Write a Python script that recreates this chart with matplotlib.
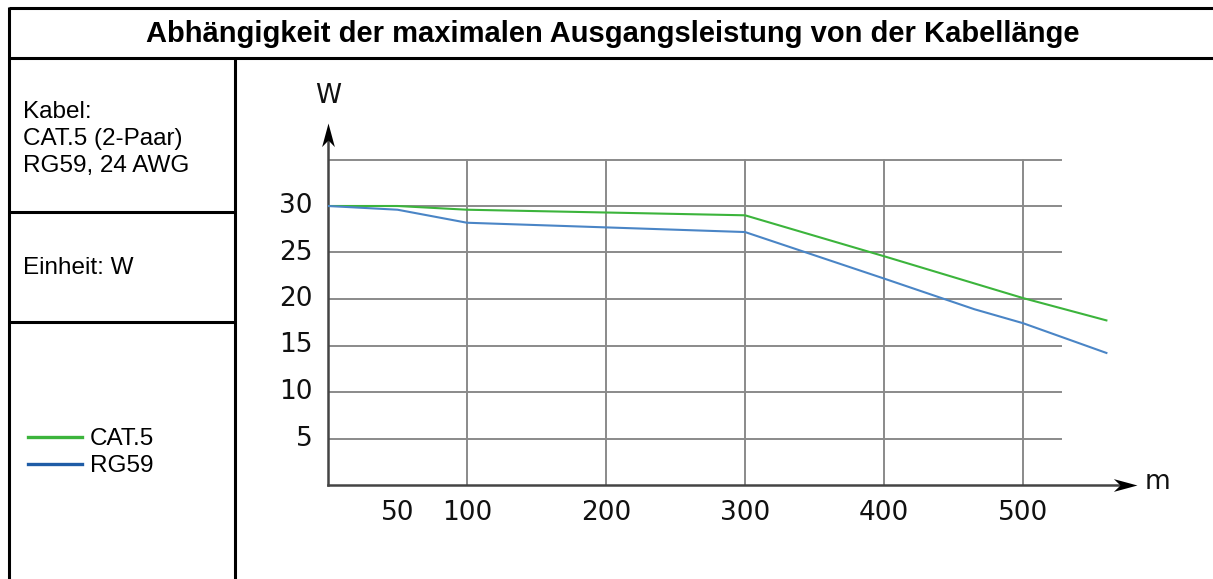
import matplotlib
matplotlib.use("Agg")
import matplotlib.pyplot as plt
from matplotlib.lines import Line2D

W, H = 1213, 579

# data
length_cat5 = [0, 50, 100, 200, 300, 400, 500, 530, 560]
power_cat5 = [30, 30, 29.6, 29.3, 29.0, 24.6, 20.1, 18.9, 17.7]
length_rg59 = [0, 50, 100, 200, 300, 400, 465, 500, 560]
power_rg59 = [30, 29.6, 28.2, 27.7, 27.2, 22.2, 18.9, 17.4, 14.2]
x_ticks = [50, 100, 200, 300, 400, 500]
x_grid = [100, 200, 300, 400, 500]
y_ticks = [5, 10, 15, 20, 25, 30]
y_grid = [5, 10, 15, 20, 25, 30, 35]

green = "#3cb43c"
blue = "#4a85c6"
legend_blue = "#1f5ca6"
grid_c = "#8a8a8a"
axis_c = "#444444"

fig = plt.figure(figsize=(W / 100, H / 100), dpi=100)
fig.patch.set_facecolor("white")


def px(x, y):
    return x / W, 1 - y / H


def frame_line(x0, y0, x1, y1):
    (a, b), (c, d) = px(x0, y0), px(x1, y1)
    fig.add_artist(Line2D([a, c], [b, d], color="black", lw=2.2,
                          solid_capstyle="butt", transform=fig.transFigure))


# table frame
frame_line(9, 8, W, 8)
frame_line(9, 58, W, 58)
frame_line(9, 6.5, 9, H)
frame_line(235, 58, 235, H)
frame_line(9, 212, 235, 212)
frame_line(9, 322, 235, 322)

sans = ["Liberation Sans", "DejaVu Sans"]
fig.text(*px(613, 34), "Abhängigkeit der maximalen Ausgangsleistung von der Kabellänge",
         ha="center", va="center", fontsize=21, fontweight="bold", family=sans)
fig.text(*px(23, 139), "Kabel:\nCAT.5 (2-Paar)\nRG59, 24 AWG", ha="left", va="center",
         fontsize=17.5, family=sans, linespacing=1.27)
fig.text(*px(23, 268), "Einheit: W", ha="left", va="center", fontsize=17.5, family=sans)

# legend in left cell
for (yy, col, lab) in [(437, green, "CAT.5"), (464, legend_blue, "RG59")]:
    (a, b), (c, d) = px(28, yy), px(82, yy)
    fig.add_artist(Line2D([a, c], [b, d], color=col, lw=2.4, transform=fig.transFigure))
    fig.text(*px(90, yy + 2), lab, ha="left", va="center", fontsize=17.5, family=sans)

# plot area: data x 0 -> pixel 328, 100 m = 139 px; 5 W = 46.5 px, 0 W at pixel 485
x_px, y_px = 1.39, 9.3
left, right, bottom, top = 328, 1140, 485, 123
ax = fig.add_axes([left / W, 1 - bottom / H, (right - left) / W, (bottom - top) / H])
ax.set_xlim(0, (right - left) / x_px)
ax.set_ylim(0, (bottom - top) / y_px)
ax.axis("off")

for g in y_grid:
    ax.plot([0, 527], [g, g], color=grid_c, lw=1.4, zorder=1)
for g in x_grid:
    ax.plot([g, g], [0, 35], color=grid_c, lw=1.4, zorder=1)

ax.plot(length_cat5, power_cat5, color=green, lw=1.5, zorder=3)
ax.plot(length_rg59, power_rg59, color=blue, lw=1.5, zorder=3)

# axes with notched arrow heads
ax.plot([0, 575], [0, 0], color=axis_c, lw=1.8, zorder=2, clip_on=False)
ax.plot([0, 0], [0, 37.5], color=axis_c, lw=1.8, zorder=2, clip_on=False)
head_right = [(0, 0), (-1, 0.27), (-0.72, 0), (-1, -0.27), (0, 0)]
head_up = [(0, 0), (0.27, -1), (0, -0.72), (-0.27, -1), (0, 0)]
ax.plot([582], [0], marker=head_right, markersize=34, color="black", mew=0,
        clip_on=False, zorder=4)
ax.plot([0], [38.9], marker=head_up, markersize=34, color="black", mew=0,
        clip_on=False, zorder=4)

tick_font = dict(fontsize=19, family="DejaVu Sans", color="#111111")
for t in x_ticks:
    ax.text(t, -3.0, str(t), ha="center", va="center", clip_on=False, **tick_font)
for t in y_ticks:
    ax.text(-10.8, t, str(t), ha="right", va="center", clip_on=False, **tick_font)
ax.text(0, 41.8, "W", ha="center", va="center", clip_on=False, **tick_font)
ax.text(597, 0.3, "m", ha="center", va="center", clip_on=False, **tick_font)

fig.savefig("out.png", dpi=100, facecolor="white")
